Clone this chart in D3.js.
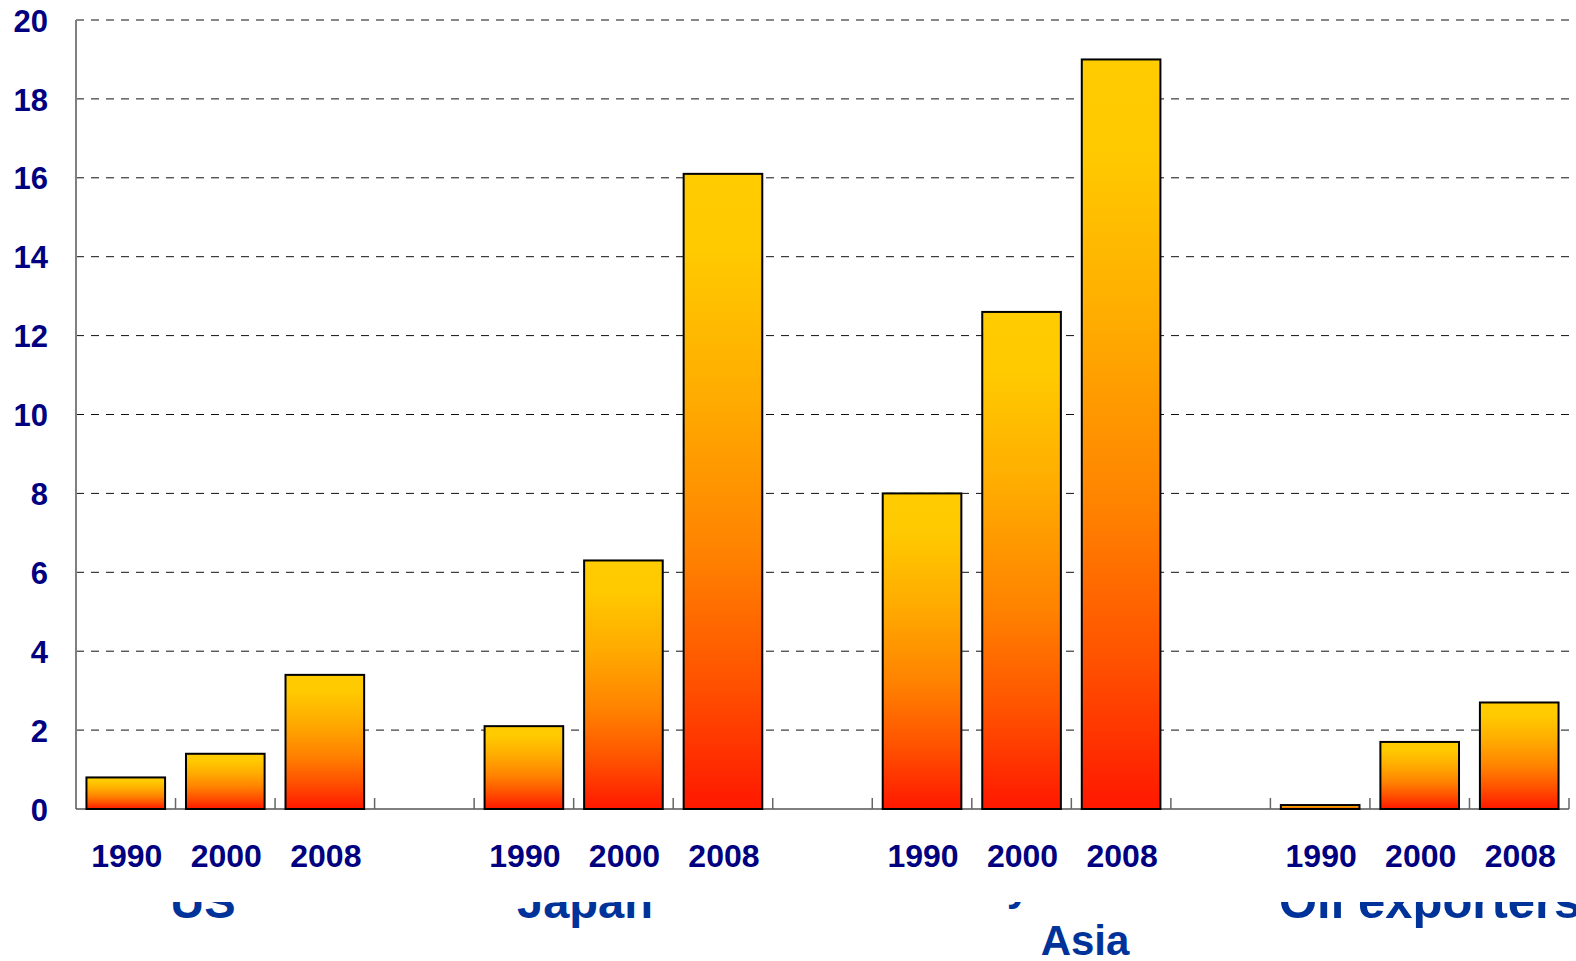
<!DOCTYPE html>
<html>
<head>
<meta charset="utf-8">
<script src="https://cdn.jsdelivr.net/npm/d3@7"></script>
<style>
  html, body { margin: 0; padding: 0; background: #fff; }
  svg { display: block; }
  text { font-family: "Liberation Sans", Arial, sans-serif; font-weight: bold; }
</style>
</head>
<body>
<svg id="chart" width="1576" height="961"></svg>
<script>
// Groups, years and values (per cent)
const groups = ["US", "Japan", "Dynamic Asia", "Oil exporters"];
const years = ["1990", "2000", "2008"];
const usValues = [0.8, 1.4, 3.4];
const japanValues = [2.1, 6.3, 16.1];
const asiaValues = [8.0, 12.6, 19.0];
const oilValues = [0.1, 1.7, 2.7];
const yTickValues = [0, 2, 4, 6, 8, 10, 12, 14, 16, 18, 20];

const seriesByGroup = [usValues, japanValues, asiaValues, oilValues];

// One slot per bar, with an empty slot between groups
const slotsPerGroup = years.length + 1;
const slotCount = groups.length * slotsPerGroup - 1;
const bars = [];
groups.forEach((g, gi) => {
  years.forEach((yr, yi) => {
    bars.push({ group: g, year: yr, value: seriesByGroup[gi][yi], slot: gi * slotsPerGroup + yi });
  });
});

const svg = d3.select("#chart");
const plotLeft = 76, plotRight = 1569, plotTop = 20, plotBottom = 809;

const x = d3.scaleBand()
  .domain(d3.range(slotCount))
  .range([plotLeft, plotRight])
  .paddingInner(0.21)
  .paddingOuter(0.105);
const step = x.step();

const y = d3.scaleLinear().domain([0, 20]).range([plotBottom, plotTop]);

// Vertical fill: yellow at the top fading to red at the base
const defs = svg.append("defs");
const grad = defs.append("linearGradient")
  .attr("id", "barFill").attr("x1", 0).attr("y1", 0).attr("x2", 0).attr("y2", 1);
[[0, "#FFCC00"], [0.12, "#FFCA00"], [0.35, "#FFAC00"], [0.6, "#FF8200"], [0.8, "#FF5200"], [1, "#FF1800"]]
  .forEach(([o, c]) => grad.append("stop").attr("offset", o).attr("stop-color", c));

// Region labels are clipped along their upper part
defs.append("clipPath").attr("id", "labelClip")
  .append("rect").attr("x", 0).attr("y", 902).attr("width", 1576).attr("height", 59);

// Dashed gridlines
svg.append("g")
  .selectAll("line")
  .data(yTickValues.filter(v => v > 0))
  .join("line")
  .attr("x1", plotLeft).attr("x2", plotRight)
  .attr("y1", d => y(d)).attr("y2", d => y(d))
  .attr("stroke", "#111").attr("stroke-width", 1)
  .attr("stroke-dasharray", "8,7");

// Y axis labels
const yAxis = d3.axisLeft(y).tickValues(yTickValues).tickSize(0).tickPadding(28);
const yAxisG = svg.append("g").attr("transform", `translate(${plotLeft},0)`).call(yAxis);
yAxisG.select(".domain").remove();
yAxisG.selectAll("text")
  .attr("fill", "#000080")
  .style("font-size", "31px")
  .style("font-family", "'Liberation Sans', Arial, sans-serif")
  .style("font-weight", "bold")
  .attr("dy", "0.36em");

// Axis lines
svg.append("line")
  .attr("x1", plotLeft).attr("x2", plotLeft).attr("y1", plotTop).attr("y2", plotBottom)
  .attr("stroke", "#808080").attr("stroke-width", 2);
svg.append("line")
  .attr("x1", plotLeft).attr("x2", plotRight).attr("y1", plotBottom).attr("y2", plotBottom)
  .attr("stroke", "#555").attr("stroke-width", 1.5);

// Category tick marks between slots
svg.append("g")
  .selectAll("line")
  .data(d3.range(1, slotCount + 1))
  .join("line")
  .attr("x1", k => plotLeft + k * step).attr("x2", k => plotLeft + k * step)
  .attr("y1", plotBottom - 11).attr("y2", plotBottom)
  .attr("stroke", "#666").attr("stroke-width", 1.5);

// Bars
svg.append("g")
  .selectAll("rect")
  .data(bars)
  .join("rect")
  .attr("x", d => x(d.slot))
  .attr("width", x.bandwidth())
  .attr("y", d => y(d.value))
  .attr("height", d => y(0) - y(d.value))
  .attr("fill", "url(#barFill)")
  .attr("stroke", "#000").attr("stroke-width", 2);

// Year labels under each bar
svg.append("g")
  .selectAll("text")
  .data(bars)
  .join("text")
  .attr("x", d => x(d.slot) + x.bandwidth() / 2 + 1)
  .attr("y", 867)
  .attr("text-anchor", "middle")
  .attr("fill", "#000080")
  .style("font-size", "32px")
  .text(d => d.year);

// Region labels
const labelLayout = [
  { lines: [groups[0]], x: 203, anchor: "middle", size: 47, baselines: [918] },
  { lines: [groups[1]], x: 585, anchor: "middle", size: 47, baselines: [918] },
  { lines: groups[2].split(" "), x: [1064, 1085], anchor: "middle", size: 42, baselines: [900, 955] },
  { lines: [groups[3]], x: 1279, anchor: "start", size: 49, baselines: [918] }
];
const labelG = svg.append("g").attr("clip-path", "url(#labelClip)");
labelLayout.forEach(l => {
  l.lines.forEach((t, i) => {
    labelG.append("text")
      .attr("x", Array.isArray(l.x) ? l.x[i] : l.x)
      .attr("y", l.baselines[i])
      .attr("text-anchor", l.anchor)
      .attr("fill", "#003399")
      .style("font-size", l.size + "px")
      .text(t);
  });
});
</script>
</body>
</html>
